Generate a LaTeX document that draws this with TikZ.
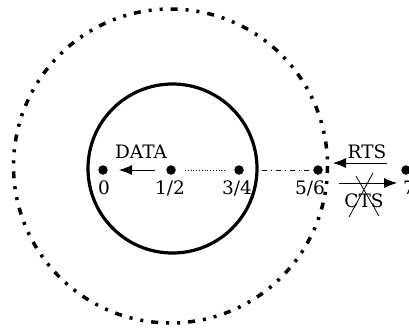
\documentclass[tikz,border=0pt]{standalone}
\usepackage{fontspec}
\setmainfont{DejaVu Serif}
\usetikzlibrary{arrows.meta}
\begin{document}
\begin{tikzpicture}[x=1pt,y=-1pt,
  dotnode/.style={circle,fill=black,inner sep=0pt,minimum size=9.5pt},
  lbl/.style={inner sep=0pt,font=\fontsize{18.5}{22}\selectfont},
  msg/.style={line width=0.8pt,-{Latex[length=13pt,width=10pt]}},
  outerrange/.style={line width=3.5pt,dash pattern=on 7pt off 8pt on 3pt off 8pt on 3pt off 8pt},
  innerrange/.style={line width=3.2pt}]
\useasboundingbox (0,0) rectangle (409,333);
% ranges
\draw[outerrange] (170.5,166) circle[radius=157];
\draw[innerrange] (172.5,168.5) circle[radius=84.5];
% stations
\node[dotnode] (n0) at (103,170) {};
\node[dotnode] (n12) at (171,170) {};
\node[dotnode] (n34) at (239,170) {};
\node[dotnode] (n56) at (318,170) {};
\node[dotnode] (n7) at (406,170) {};
\node[lbl] (l0) at (104,188) {0};
\node[lbl] (l12) at (170,188) {1/2};
\node[lbl] (l34) at (237,188) {3/4};
\node[lbl] (l56) at (310,188) {5/6};
\node[lbl,anchor=west] (l7) at (403,188) {7};
% links
\coordinate (d1) at (155,170);
\coordinate (d2) at (119,170);
\draw[msg] (d1) -- (d2);
\node[lbl] (data) at (141,152) {DATA};
\coordinate (p1) at (185,170);
\coordinate (p2) at (225,170);
\draw[line width=0.8pt,dotted] (p1) -- (p2);
\coordinate (q1) at (262,170);
\coordinate (q2) at (313,170);
\draw[line width=0.8pt,dash pattern=on 5pt off 4pt on 1pt off 4pt] (q1) -- (q2);
\coordinate (r1) at (387,163);
\coordinate (r2) at (333,163);
\draw[msg] (r1) -- (r2);
\node[lbl] (rts) at (367,152) {RTS};
\coordinate (c1) at (339,183);
\coordinate (c2) at (397,183);
\draw[msg] (c1) -- (c2);
\node[lbl] (cts) at (364,201) {CTS};
\coordinate (x1) at (349,217);
\coordinate (x2) at (373,173);
\coordinate (x3) at (356,176);
\coordinate (x4) at (379,216);
\draw[line width=0.8pt] (x1) -- (x2) (x3) -- (x4);
\end{tikzpicture}
\end{document}
